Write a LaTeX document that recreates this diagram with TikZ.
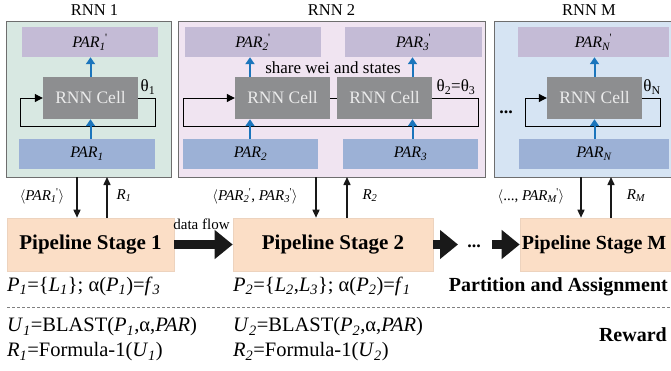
\documentclass[tikz,border=0pt]{standalone}
\usepackage{fontspec}
\setmainfont{Liberation Serif}
\usetikzlibrary{arrows.meta}
\definecolor{rnnA}{HTML}{D8E8E2}
\definecolor{rnnB}{HTML}{F0E4F1}
\definecolor{rnnC}{HTML}{D6E4F3}
\definecolor{frame}{HTML}{6E6E6E}
\definecolor{outc}{HTML}{C4BBD6}
\definecolor{inc}{HTML}{9CB1D6}
\definecolor{cellc}{HTML}{8D8E90}
\definecolor{stagec}{HTML}{FBDEC6}
\definecolor{stageb}{HTML}{EDD3BE}
\definecolor{bluec}{HTML}{1B75BC}
\newcommand{\isb}[1]{\textsubscript{\itshape #1}}
\newcommand{\psb}[1]{\textsubscript{\itshape #1}\textsuperscript{\kern-0.05em\upshape\textquotesingle}}
\newcommand{\fs}[1]{\fontsize{#1}{#1}\selectfont}
\begin{document}
\begin{tikzpicture}[x=1pt,y=-1pt,
  rnnbox/.style={draw=frame, line width=1pt, inner sep=0pt, outer sep=0pt},
  outbox/.style={fill=outc, inner sep=0pt, minimum height=30pt, font=\fs{16}\itshape},
  inbox/.style={fill=inc, inner sep=0pt, minimum height=30pt, font=\fs{16}\itshape},
  cellbox/.style={fill=cellc, inner sep=0pt, minimum width=95pt, minimum height=42pt, text=white!92!black, font=\fs{17.5}},
  stagebox/.style={fill=stagec, draw=stageb, line width=0.6pt, inner sep=0pt, minimum height=53pt, font=\fs{21}\bfseries},
  blue/.style={draw=bluec, line width=2pt, -{Triangle[length=7pt,width=9pt]}},
  loopl/.style={draw=black, line width=1pt},
  ioarrow/.style={draw=black!90, line width=1.5pt, -{Triangle[length=8pt,width=7pt]}},
  fat/.style={draw=black!90, line width=9pt, -{Triangle[length=18pt,width=28pt]}},
  lab/.style={inner sep=0pt, font=\fs{16}},
  small/.style={inner sep=0pt, font=\fs{15}},
  formula/.style={inner sep=0pt, font=\fs{20.5}, anchor=west},
  title/.style={inner sep=0pt, font=\fs{20}\bfseries, anchor=east}
]
\useasboundingbox (0,0) rectangle (671,370);

% ---------- RNN 1 ----------
\node[rnnbox, fill=rnnA, minimum width=165pt, minimum height=156pt] (R1) at (88.5,99) {};
\node[lab, font=\fs{16.5}] (t1) at (94.5,10) {RNN 1};
\node[outbox, minimum width=136pt] (o1) at (90,42) {PAR\psb{1}};
\node[cellbox] (c1) at (90.5,98) {RNN Cell};
\node[inbox, minimum width=136pt] (i1) at (87,154) {PAR\isb{1}};
\coordinate (l1a) at (155,98);
\coordinate (l1b) at (155,126);
\coordinate (l1c) at (20,126);
\coordinate (l1d) at (20,98);
\draw[loopl] (c1.east) -- (l1a) -- (l1b) -- (l1c) -- (l1d);
\draw[loopl, -{Triangle[length=8pt,width=8pt]}] (l1d) -- (c1.west);
\node[lab, font=\fs{17}] (th1) at (148,87) {θ\textsubscript{1}};
\draw[blue] (i1.north -| c1.south) -- (c1.south);
\draw[blue] (c1.north) -- (c1.north |- o1.south);

% ---------- RNN 2 ----------
\node[rnnbox, fill=rnnB, minimum width=307pt, minimum height=156pt] (R2) at (331.5,99) {};
\node[lab, font=\fs{16.5}] (t2) at (331.5,10) {RNN 2};
\node[outbox, minimum width=136pt] (o2) at (253,42) {PAR\psb{2}};
\node[outbox, minimum width=137pt] (o3) at (413.5,42) {PAR\psb{3}};
\node[cellbox] (c2) at (282.5,98) {RNN Cell};
\node[cellbox] (c3) at (384.5,98) {RNN Cell};
\node[inbox, minimum width=135pt] (i2) at (250.5,154) {PAR\isb{2}};
\node[inbox, minimum width=135pt] (i3) at (410.5,154) {PAR\isb{3}};
\draw[loopl] (c2.east) -- (c3.west);
\coordinate (l2a) at (478,98);
\coordinate (l2b) at (478,126);
\coordinate (l2c) at (183,126);
\coordinate (l2d) at (183,98);
\draw[loopl] (c3.east) -- (l2a) -- (l2b) -- (l2c) -- (l2d);
\draw[loopl, -{Triangle[length=8pt,width=8pt]}] (l2d) -- (c2.west);
\node[lab, font=\fs{17}] (th2) at (456,87) {θ\textsubscript{2}=θ\textsubscript{3}};
\node[lab, font=\fs{17}] (share) at (333,68) {share wei and states};
\coordinate (b2x) at (250,0);
\coordinate (b3x) at (412.5,0);
\draw[blue] (i2.north -| b2x) -- (c2.south -| b2x);
\draw[blue] (c2.north -| b2x) -- (o2.south -| b2x);
\draw[blue] (i3.north -| b3x) -- (c3.south -| b3x);
\draw[blue] (c3.north -| b3x) -- (o3.south -| b3x);

% ---------- RNN M ----------
\node[rnnbox, fill=rnnC, minimum width=184pt, minimum height=156pt] (RM) at (586,99) {};
\node[lab, font=\fs{16.5}] (tM) at (589,10) {RNN M};
\node[outbox, minimum width=151pt] (oM) at (593.5,42) {PAR\psb{N}};
\node[cellbox] (cM) at (594.5,98) {RNN Cell};
\node[inbox, minimum width=150pt] (iM) at (594,154) {PAR\isb{N}};
\coordinate (lMa) at (660,98);
\coordinate (lMb) at (660,126);
\coordinate (lMc) at (525,126);
\coordinate (lMd) at (525,98);
\draw[loopl] (cM.east) -- (lMa) -- (lMb) -- (lMc) -- (lMd);
\draw[loopl, -{Triangle[length=8pt,width=8pt]}] (lMd) -- (cM.west);
\node[lab, font=\fs{17}] (thM) at (652,87) {θ\textsubscript{N}};
\node[lab, font=\fs{18}\bfseries] (dotsM) at (506,112) {...};
\draw[blue] (iM.north -| cM.south) -- (cM.south);
\draw[blue] (cM.north) -- (cM.north |- oM.south);

% ---------- Pipeline stages ----------
\node[stagebox, minimum width=167pt] (s1) at (90.5,244.5) {Pipeline Stage 1};
\node[stagebox, minimum width=200pt] (s2) at (333,244.5) {Pipeline Stage 2};
\node[stagebox, minimum width=160pt] (sM) at (600,244.5) {};
\node[inner sep=0pt, font=\fs{20}\bfseries, anchor=west] (sMt) at ([xshift=2pt]sM.west) {Pipeline Stage M};

\draw[fat] (s1.east) -- (s2.west);
\node[small] (df) at (201.5,224) {data flow};
\coordinate (f2) at (458,244.5);
\draw[fat] (s2.east) -- (f2);
\node[lab, font=\fs{18}\bfseries] (dots2) at (474,246) {...};
\coordinate (f3) at (492,244.5);
\draw[fat] (f3) -- (sM.west);

% vertical connectors
\coordinate (d1) at (77,0);
\coordinate (u1) at (107,0);
\draw[ioarrow] (R1.south -| d1) -- (s1.north -| d1);
\draw[ioarrow] (s1.north -| u1) -- (R1.south -| u1);
\coordinate (d2) at (316,0);
\coordinate (u2) at (347,0);
\draw[ioarrow] (R2.south -| d2) -- (s2.north -| d2);
\draw[ioarrow] (s2.north -| u2) -- (R2.south -| u2);
\coordinate (dM) at (581,0);
\coordinate (uM) at (611,0);
\draw[ioarrow] (RM.south -| dM) -- (sM.north -| dM);
\draw[ioarrow] (sM.north -| uM) -- (RM.south -| uM);

\node[small] (a1) at (42,196) {$\langle$\textit{PAR}\psb{1}$\rangle$};
\node[small] (r1) at (124,196) {\textit{R}\isb{1}};
\node[small] (a2) at (255,196) {$\langle$\textit{PAR}\psb{2}, \textit{PAR}\psb{3}$\rangle$};
\node[small] (r2) at (370,196) {\textit{R}\isb{2}};
\node[small] (aM) at (531,196) {$\langle$..., \textit{PAR}\psb{M}$\rangle$};
\node[small] (rM) at (636,196) {\textit{R}\isb{M}};

% ---------- bottom text ----------
\node[formula] (p1) at (7,286) {\textit{P}\isb{1}=\{\textit{L}\isb{1}\}; α(\textit{P}\isb{1})=\textit{f}\isb{3}};
\node[formula] (p2) at (233,286) {\textit{P}\isb{2}=\{\textit{L}\isb{2},\textit{L}\isb{3}\}; α(\textit{P}\isb{2})=\textit{f}\isb{1}};
\node[title] (pa) at (668,287) {Partition and Assignment};
\coordinate (dl1) at (7,307);
\coordinate (dl2) at (670,307);
\draw[gray, line width=0.8pt, dash pattern=on 3pt off 2pt] (dl1) -- (dl2);
\node[formula] (u1t) at (7,327) {\textit{U}\isb{1}=BLAST(\textit{P}\isb{1},α,\textit{PAR})};
\node[formula] (r1t) at (7,352) {\textit{R}\isb{1}=Formula-1(\textit{U}\isb{1})};
\node[formula] (u2t) at (233,327) {\textit{U}\isb{2}=BLAST(\textit{P}\isb{2},α,\textit{PAR})};
\node[formula] (r2t) at (233,352) {\textit{R}\isb{2}=Formula-1(\textit{U}\isb{2})};
\node[title] (rw) at (667,335) {Reward};
\end{tikzpicture}
\end{document}
